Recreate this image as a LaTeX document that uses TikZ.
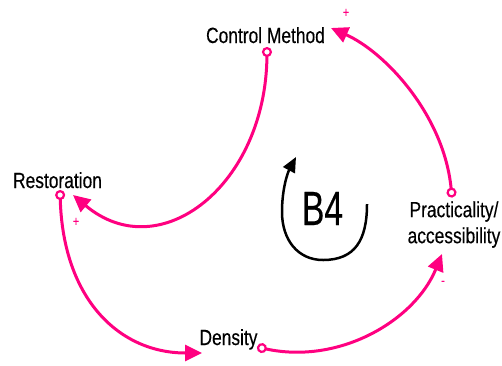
\documentclass[tikz,border=0pt]{standalone}
\usepackage{fontspec}
\setmainfont{Liberation Sans}[FakeStretch=0.79,FakeBold=0.3]
\newfontfamily\bfourfont{Liberation Sans}[FakeStretch=0.7,FakeBold=0.3]
\usetikzlibrary{arrows.meta,calc}
\definecolor{loopc}{RGB}{255,0,128}
\begin{document}
\begin{tikzpicture}[x=1pt,y=-1pt,
  lbl/.style={inner sep=0pt, font=\fontsize{22}{26}\selectfont},
  pol/.style={text=loopc, inner sep=0pt, font=\fontsize{14}{14}\selectfont},
  link/.style={draw=loopc, line width=3pt,
    {Circle[open,fill=white,length=10pt,width=10pt,line width=2.2pt]}-{Triangle[length=17pt,width=16pt]}},
  loopline/.style={draw=black, line width=2.5pt, -{Triangle[length=15pt,width=13pt]}}
  ]
\useasboundingbox (0,0) rectangle (502,365);

\node[lbl, anchor=base] (cm) at (265.5,43) {Control Method};
\node[lbl, anchor=base] (rest) at (57.5,188) {Restoration};
\node[lbl, align=center] (prac) at (454,224.5) {Practicality/\\accessibility};
\node[lbl, anchor=base] (dens) at (228.5,345) {Density};
\node[inner sep=0pt, anchor=base, font=\bfourfont\fontsize{48}{48}\selectfont] (b4) at (322.5,225) {B4};

% connectors
\draw[link] ($(cm.base)+(1.5,4)$) .. controls (266,185) and (160,268) .. ($(rest.base)+(15.5,7)$);
\draw[link] ($(rest.base)+(2.5,2)$) .. controls (63,300) and (120,353) .. ($(dens.base)+(-26.5,8)$);
\draw[link] ($(dens.base)+(28.5,2)$) .. controls (340,365) and (415,320) .. ($(prac.south)+(-12,6)$);
\draw[link] ($(prac.north)+(-2,-3.5)$) .. controls (444,115) and (385,52) .. ($(cm.base)+(65.5,-15)$);

% polarities
\node[pol] (p1) at (76,222) {+};
\node[pol] (p4) at (346,13) {+};
\node[pol] (p3) at (443,283) {-};

% loop arrow
\draw[loopline] ($(b4.base)+(44.5,-21)$) .. controls (367,240) and (355,260) .. (323,260)
  .. controls (298,260) and (282,240) .. (282,212)
  .. controls (282,188) and (288,172) .. (296,157);
\end{tikzpicture}
\end{document}
